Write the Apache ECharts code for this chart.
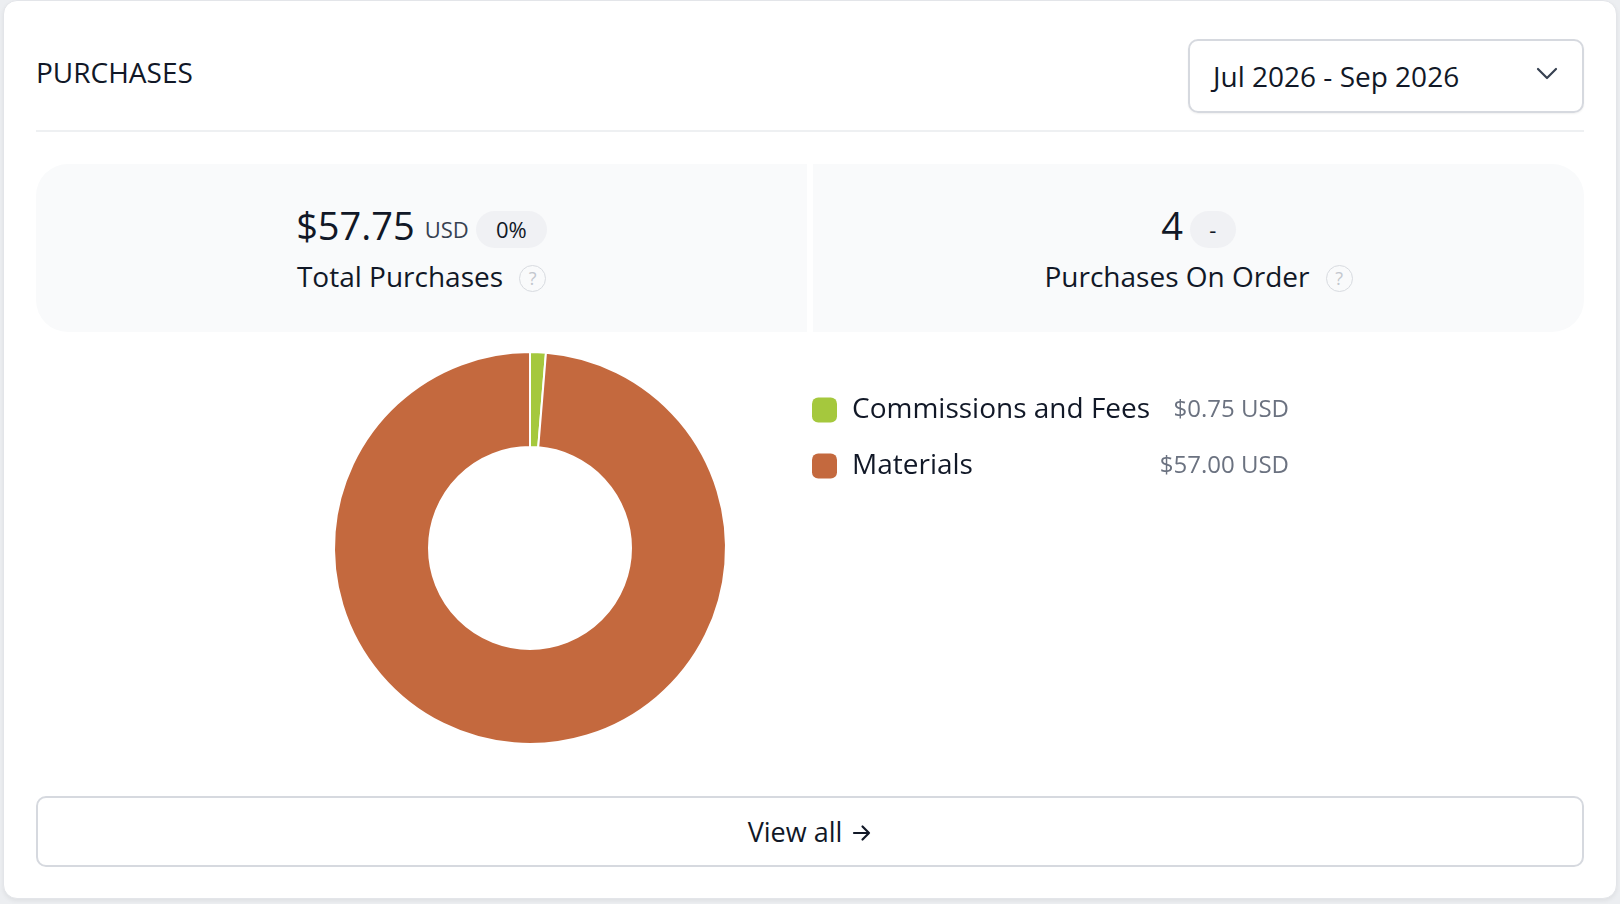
<!DOCTYPE html>
<html>
<head>
<meta charset="utf-8">
<script src="https://cdn.jsdelivr.net/npm/echarts@6/dist/echarts.min.js"></script>
<style>
  html, body { margin: 0; padding: 0; }
  body {
    width: 1620px; height: 904px; background: #eceef1; position: relative; overflow: hidden;
    font-family: 'Open Sans', sans-serif; color: #111827;
  }
  .card {
    position: absolute; left: 3px; top: 0; width: 1612px; height: 897px;
    background: #fff; border: 1px solid #e3e5e9; border-radius: 14px;
    box-shadow: 0 2px 4px rgba(0,0,0,0.06);
  }
  .title { position: absolute; left: 36px; top: 54px; font-size: 28px; line-height: 36px; }
  .range {
    position: absolute; left: 1188px; top: 39px; width: 392px; height: 70px;
    border: 2px solid #d6d9df; border-radius: 10px; box-sizing: content-box;
    box-shadow: 0 1px 2px rgba(0,0,0,0.06);
  }
  .range span { position: absolute; left: 23px; top: 16px; font-size: 28px; line-height: 38px; }
  .range svg { position: absolute; left: 346px; top: 26px; }
  .divider { position: absolute; left: 36px; top: 130px; width: 1548px; height: 2px; background: #eef0f2; }
  .panel {
    position: absolute; top: 164px; height: 168px; width: 771px; background: #f9fafb;
  }
  .panel.l { left: 36px; border-radius: 32px 0 0 32px; }
  .panel.r { left: 813px; border-radius: 0 32px 32px 0; }
  .row1 { position: absolute; left: 0; right: 0; top: 37px; height: 48px; display: flex; justify-content: center; align-items: center; }
  .big { font-size: 38px; line-height: 48px; }
  .unit { font-size: 22px; color: #374151; margin-left: 10px; margin-top: 8px; }
  .badge { background: #f0f1f4; border-radius: 19px; height: 37px; font-size: 22px; line-height: 37px; text-align: center; margin-left: 7px; margin-top: 8px; }
  .row2 { position: absolute; left: 0; right: 0; top: 92px; height: 40px; display: flex; justify-content: center; align-items: center; font-size: 28px; }
  .help {
    width: 25px; height: 25px; border: 1.5px solid #d8dbe0; border-radius: 50%; margin-left: 16px; margin-top: 4px;
    font-size: 18px; line-height: 25px; text-align: center; color: #c3c7ce;
  }
  .btn {
    position: absolute; left: 36px; top: 796px; width: 1544px; height: 67px;
    border: 2px solid #d6d9df; border-radius: 10px;
    display: flex; justify-content: center; align-items: center; font-size: 27px;
  }
  .btn svg { margin-left: 10px; margin-top: 2px; }
  #chart { position: absolute; left: 0; top: 0; width: 1620px; height: 904px; }
</style>
</head>
<body>
<div class="card"></div>
<div class="title">PURCHASES</div>
<div class="range"><span>Jul 2026 - Sep 2026</span>
  <svg width="22" height="14" viewBox="0 0 22 14"><path d="M2 2 L11 11 L20 2" fill="none" stroke="#374151" stroke-width="2.2" stroke-linecap="round" stroke-linejoin="round"/></svg>
</div>
<div class="divider"></div>
<div class="panel l">
  <div class="row1"><span class="big">$57.75</span><span class="unit">USD</span><span class="badge" style="width:71px">0%</span></div>
  <div class="row2"><span>Total Purchases</span><span class="help">?</span></div>
</div>
<div class="panel r">
  <div class="row1"><span class="big">4</span><span class="badge" style="width:46px">-</span></div>
  <div class="row2"><span>Purchases On Order</span><span class="help">?</span></div>
</div>
<div class="btn"><span>View all</span>
  <svg width="20" height="18" viewBox="0 0 20 18"><path d="M2 9 H17 M10.5 2.5 L17 9 L10.5 15.5" fill="none" stroke="#111827" stroke-width="2.2" stroke-linecap="round" stroke-linejoin="round"/></svg>
</div>
<div id="chart"></div>
<script>
  // purchase categories and amounts (USD)
  const categories = ['Commissions and Fees', 'Materials'];
  const amounts = [0.75, 57.00];
  const colors = ['#a5c83d', '#c4693e'];

  const chart = echarts.init(document.getElementById('chart'), null, { renderer: 'canvas' });

  const valueText = {};
  categories.forEach((c, i) => { valueText[c] = '$' + amounts[i].toFixed(2) + ' USD'; });

  const option = {
    backgroundColor: 'transparent',
    animation: false,
    color: colors,
    legend: {
      orient: 'vertical',
      left: 807,
      top: 391,
      itemWidth: 25,
      itemHeight: 25,
      itemGap: 28,
      icon: 'roundRect',
      selectedMode: false,
      data: categories,
      itemStyle: { borderWidth: 0 },
      formatter: function (name) {
        return '{n|' + name + '}{v|' + valueText[name] + '}';
      },
      textStyle: {
        padding: [0, 0, 0, 10],
        rich: {
          n: { fontFamily: 'Open Sans', fontSize: 28, color: '#111827', width: 290, lineHeight: 25 },
          v: { fontFamily: 'Open Sans', fontSize: 24, color: '#6b7280', width: 147, align: 'right', lineHeight: 25 }
        }
      }
    },
    series: [{
      type: 'pie',
      center: [530, 548],
      radius: [101, 196],
      startAngle: 90,
      clockwise: true,
      avoidLabelOverlap: false,
      label: { show: false },
      labelLine: { show: false },
      emphasis: { disabled: true },
      itemStyle: { borderColor: '#fff', borderWidth: 2 },
      data: categories.map((c, i) => ({ name: c, value: amounts[i] }))
    }]
  };
  chart.setOption(option);
</script>
</body>
</html>
